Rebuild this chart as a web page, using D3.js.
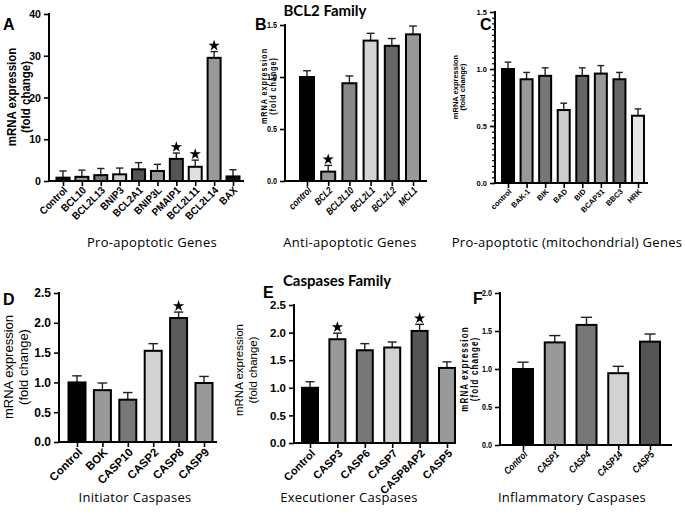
<!DOCTYPE html>
<html>
<head>
<meta charset="utf-8">
<script src="https://cdn.jsdelivr.net/npm/d3@7"></script>
<style>
  body { margin: 0; background: #fff; }
  svg { display: block; }
</style>
</head>
<body>
<div id="chart"></div>
<script>
// ---- data ----
const genesA = ['Control', 'BCL10', 'BCL2L13', 'BNIP3', 'BCL2A1', 'BNIP3L', 'PMAIP1', 'BCL2L11', 'BCL2L14', 'BAX']
const meanA = [0.8, 1.0, 1.4, 1.6, 2.8, 2.4, 5.3, 3.4, 29.5, 1.1]
const errA = [1.6, 1.6, 1.6, 1.5, 1.6, 1.6, 1.4, 1.6, 1.5, 1.6]
const sigA = ['PMAIP1', 'BCL2L11', 'BCL2L14']

const genesB = ['control', 'BCL2', 'BCL2L10', 'BCL2L1', 'BCL2L2', 'MCL1']
const meanB = [1.0, 0.09, 0.94, 1.35, 1.30, 1.41]
const errB = [0.06, 0.06, 0.07, 0.07, 0.07, 0.08]
const sigB = ['BCL2']

const genesC = ['control', 'BAK-1', 'BIK', 'BAD', 'BID', 'BCAP31', 'BBC3', 'HRK']
const meanC = [1.0, 0.91, 0.94, 0.64, 0.94, 0.96, 0.91, 0.59]
const errC = [0.06, 0.06, 0.07, 0.06, 0.07, 0.07, 0.06, 0.06]
const sigC = []

const genesD = ['Control', 'BOK', 'CASP10', 'CASP2', 'CASP8', 'CASP9']
const meanD = [1.0, 0.87, 0.71, 1.53, 2.08, 0.99]
const errD = [0.11, 0.12, 0.12, 0.12, 0.10, 0.11]
const sigD = ['CASP8']

const genesE = ['Control', 'CASP3', 'CASP6', 'CASP7', 'CASP8AP2', 'CASP5']
const meanE = [1.0, 1.88, 1.68, 1.73, 2.03, 1.36]
const errE = [0.11, 0.11, 0.12, 0.10, 0.12, 0.11]
const sigE = ['CASP3', 'CASP8AP2']

const genesF = ['Control', 'CASP1', 'CASP4', 'CASP14', 'CASP5']
const meanF = [1.0, 1.35, 1.58, 0.945, 1.36]
const errF = [0.09, 0.09, 0.10, 0.09, 0.10]
const sigF = []

const width = 685
const height = 514

const ARIAL = "'Liberation Sans', Arial, sans-serif"
const SOFT = "'Open Sans', 'Noto Sans', sans-serif"
const HEAD = "Lato, 'Open Sans', sans-serif"

const svg = d3.select('#chart').append('svg')
  .attr('width', width)
  .attr('height', height)

// one bar panel: layout + style in cfg, values from the arrays above
function drawPanel(cfg) {
  const g = svg.append('g').attr('class', 'panel panel-' + cfg.letter)
  const sq = cfg.squeeze || 1   // fake a narrow face by squeezing along the text

  const x = d3.scalePoint().domain(cfg.genes).range([cfg.c0, cfg.c1])
  const y = d3.scaleLinear().domain([0, cfg.max]).range([cfg.yZero, cfg.yTop])

  const rows = cfg.genes.map((name, i) => ({ name, mean: cfg.mean[i], err: cfg.err[i], fill: cfg.fill[i] }))

  // error bars (upper only)
  const eb = g.append('g').attr('class', 'errbars')
    .attr('stroke', '#222').attr('stroke-width', 1.4)
  eb.selectAll('line.v').data(rows).enter().append('line')
    .attr('x1', d => x(d.name)).attr('x2', d => x(d.name))
    .attr('y1', d => y(d.mean)).attr('y2', d => y(d.mean + d.err))
  eb.selectAll('line.h').data(rows).enter().append('line')
    .attr('x1', d => x(d.name) - cfg.bw * 0.28).attr('x2', d => x(d.name) + cfg.bw * 0.28)
    .attr('y1', d => y(d.mean + d.err)).attr('y2', d => y(d.mean + d.err))

  // bars
  g.append('g').attr('class', 'bars')
    .selectAll('rect').data(rows).enter().append('rect')
    .attr('x', d => x(d.name) - cfg.bw / 2)
    .attr('width', cfg.bw)
    .attr('y', d => y(d.mean))
    .attr('height', d => y(0) - y(d.mean))
    .style('fill', d => d.fill)
    .style('stroke', '#000')
    .style('stroke-width', 2)

  // significance stars
  const star = d3.symbol(d3.symbolStar).size(cfg.starSize || 40)
  g.append('g').attr('class', 'stars')
    .selectAll('path').data(rows.filter(d => cfg.sig.includes(d.name))).enter().append('path')
    .attr('d', star)
    .attr('transform', d => `translate(${x(d.name)},${y(d.mean + d.err) - 6})`)
    .style('fill', '#000')

  // y axis
  const yAxis = d3.axisLeft(y)
    .tickValues(d3.range(0, cfg.max + 1e-9, cfg.step))
    .tickFormat(d3.format(cfg.fmt))
    .tickSize(5)
    .tickPadding(3)
  const ya = g.append('g').attr('class', 'axis y')
    .attr('transform', `translate(${cfg.x0},0)`)
    .call(yAxis)
  ya.select('.domain').remove()
  ya.selectAll('line').attr('stroke', '#000').attr('stroke-width', 1.6)
  ya.selectAll('text')
    .attr('x', null)
    .attr('transform', `translate(-8,0) scale(${sq},1)`)
    .style('font-family', ARIAL)
    .style('font-size', cfg.ytickSize + 'px')
    .style('font-weight', 'bold')
    .attr('fill', '#000')

  if (cfg.minor) {
    const minor = g.append('g').attr('class', 'axis y-minor')
      .attr('transform', `translate(${cfg.x0},0)`)
      .call(d3.axisLeft(y).tickValues(d3.range(0, cfg.max, cfg.minor)).tickSize(3).tickFormat(''))
    minor.select('.domain').remove()
    minor.selectAll('line').attr('stroke', '#000').attr('stroke-width', 1.2)
  }

  g.append('line')
    .attr('x1', cfg.x0).attr('x2', cfg.x0)
    .attr('y1', cfg.yTop - 1).attr('y2', cfg.yZero + 1)
    .attr('stroke', '#000').attr('stroke-width', 2)

  // x axis
  const xa = g.append('g').attr('class', 'axis x')
    .attr('transform', `translate(0,${cfg.yZero})`)
    .call(d3.axisBottom(x).tickSize(5).tickFormat(''))
  xa.select('.domain').remove()
  xa.selectAll('line').attr('stroke', '#000').attr('stroke-width', 1.6)

  g.append('line')
    .attr('x1', cfg.x0 - 1).attr('x2', cfg.x1)
    .attr('y1', cfg.yZero).attr('y2', cfg.yZero)
    .attr('stroke', '#000').attr('stroke-width', 2)

  g.append('g').attr('class', 'xlabels')
    .selectAll('text').data(cfg.genes).enter().append('text')
    .attr('transform', d => `translate(${x(d) + cfg.lblDx},${cfg.yZero + cfg.lblDy}) rotate(-45) scale(${sq},1)`)
    .attr('text-anchor', 'end')
    .style('font-family', ARIAL)
    .style('font-size', cfg.xtickSize + 'px')
    .style('font-weight', 'bold')
    .style('font-style', cfg.italic ? 'italic' : 'normal')
    .text(d => d)

  // y title, two lines
  const yt = g.append('g').attr('class', 'ytitle')
  ;['mRNA expression', '(fold change)'].forEach((t, i) => {
    yt.append('text')
      .attr('transform', `translate(${cfg.titleX[i]},${cfg.titleY}) rotate(-90) scale(${sq},1)`)
      .attr('text-anchor', 'middle')
      .attr('dominant-baseline', 'middle')
      .style('font-family', ARIAL)
      .style('font-size', cfg.titleSize + 'px')
      .style('font-weight', cfg.titleWeight)
      .style('letter-spacing', (cfg.titleSpacing || 0) + 'px')
      .text(t)
  })

  // x title
  g.append('text')
    .attr('x', cfg.xTitle[0]).attr('y', cfg.xTitle[1])
    .attr('text-anchor', 'middle')
    .style('font-family', SOFT)
    .style('font-size', '13px')
    .style('letter-spacing', '0.3px')
    .text(cfg.xTitleText)

  // panel letter
  g.append('text')
    .attr('x', cfg.letterPos[0]).attr('y', cfg.letterPos[1])
    .style('font-family', ARIAL)
    .style('font-size', '16px')
    .style('font-weight', 'bold')
    .text(cfg.letter)
}

const panels = [
  { letter: 'A', genes: genesA, mean: meanA, err: errA, sig: sigA,
    fill: ['#111', '#999', '#777', '#ccc', '#555', '#999', '#555', '#e0e0e0', '#999', '#111'],
    x0: 49, x1: 244, c0: 63, c1: 233, yZero: 181, yTop: 14, max: 40, step: 10, fmt: 'd', bw: 13,
    squeeze: 0.92, ytickSize: 11.5, xtickSize: 10.5, italic: false, lblDx: 5, lblDy: 10,
    titleSize: 12.5, titleWeight: 'bold', titleX: [13, 27], titleY: 97,
    xTitle: [152, 247], xTitleText: 'Pro-apoptotic Genes', letterPos: [3, 30] },
  { letter: 'B', genes: genesB, mean: meanB, err: errB, sig: sigB,
    fill: ['#000', '#999', '#888', '#d4d4d4', '#666', '#999'],
    x0: 285, x1: 427, c0: 307, c1: 413, yZero: 181, yTop: 25, max: 1.5, step: 0.5, fmt: '.1f', bw: 14,
    squeeze: 0.8, ytickSize: 9, xtickSize: 10, italic: true, lblDx: 5, lblDy: 10,
    titleSize: 9, titleWeight: 'bold', titleSpacing: 1.2, titleX: [265, 274], titleY: 86,
    xTitle: [350, 247], xTitleText: 'Anti-apoptotic Genes', letterPos: [255, 30] },
  { letter: 'C', genes: genesC, mean: meanC, err: errC, sig: sigC,
    fill: ['#000', '#999', '#777', '#ccc', '#666', '#999', '#666', '#e6e6e6'],
    x0: 495, x1: 648, c0: 508, c1: 638, yZero: 183, yTop: 12, max: 1.5, step: 0.5, fmt: '.1f', bw: 12, minor: 0.05,
    squeeze: 1, ytickSize: 7.5, xtickSize: 7.5, italic: false, lblDx: 4, lblDy: 9,
    titleSize: 7.5, titleWeight: 'bold', titleX: [456, 463], titleY: 87,
    xTitle: [567, 247], xTitleText: 'Pro-apoptotic (mitochondrial) Genes', letterPos: [480, 30] },
  { letter: 'D', genes: genesD, mean: meanD, err: errD, sig: sigD,
    fill: ['#000', '#999', '#777', '#d2d2d2', '#5a5a5a', '#999'],
    x0: 59, x1: 217, c0: 77, c1: 204, yZero: 442, yTop: 293, max: 2.5, step: 0.5, fmt: '.1f', bw: 17,
    squeeze: 1, ytickSize: 12, xtickSize: 11.5, italic: false, lblDx: 6, lblDy: 11,
    titleSize: 13, titleWeight: 'normal', titleX: [10, 25], titleY: 367,
    xTitle: [135, 502], xTitleText: 'Initiator Caspases', letterPos: [3, 305] },
  { letter: 'E', genes: genesE, mean: meanE, err: errE, sig: sigE,
    fill: ['#000', '#999', '#777', '#d2d2d2', '#555', '#999'],
    x0: 294, x1: 456, c0: 310, c1: 447, yZero: 443, yTop: 305, max: 2.5, step: 0.5, fmt: '.1f', bw: 16,
    squeeze: 1, ytickSize: 11.5, xtickSize: 11, italic: false, lblDx: 6, lblDy: 11,
    titleSize: 11.5, titleWeight: 'normal', titleX: [240, 254], titleY: 370,
    xTitle: [349, 502], xTitleText: 'Executioner Caspases', letterPos: [263, 298] },
  { letter: 'F', genes: genesF, mean: meanF, err: errF, sig: sigF,
    fill: ['#000', '#999', '#777', '#d2d2d2', '#555'],
    x0: 500, x1: 672, c0: 523, c1: 650, yZero: 445, yTop: 293, max: 2.0, step: 0.5, fmt: '.1f', bw: 20,
    squeeze: 0.8, ytickSize: 9, xtickSize: 10, italic: true, lblDx: 5, lblDy: 10,
    titleSize: 10, titleWeight: 'bold', titleSpacing: 1.4, titleX: [465, 475], titleY: 369,
    xTitle: [572, 502], xTitleText: 'Inflammatory Caspases', letterPos: [473, 304] }
]

panels.forEach(drawPanel)

// group titles
svg.append('text').attr('x', 325).attr('y', 16).attr('text-anchor', 'middle')
  .style('font-family', HEAD).style('font-size', '15px').style('font-weight', 'bold')
  .text('BCL2 Family')
svg.append('text').attr('x', 337).attr('y', 286).attr('text-anchor', 'middle')
  .style('font-family', HEAD).style('font-size', '15px').style('font-weight', 'bold')
  .text('Caspases Family')
</script>
</body>
</html>
